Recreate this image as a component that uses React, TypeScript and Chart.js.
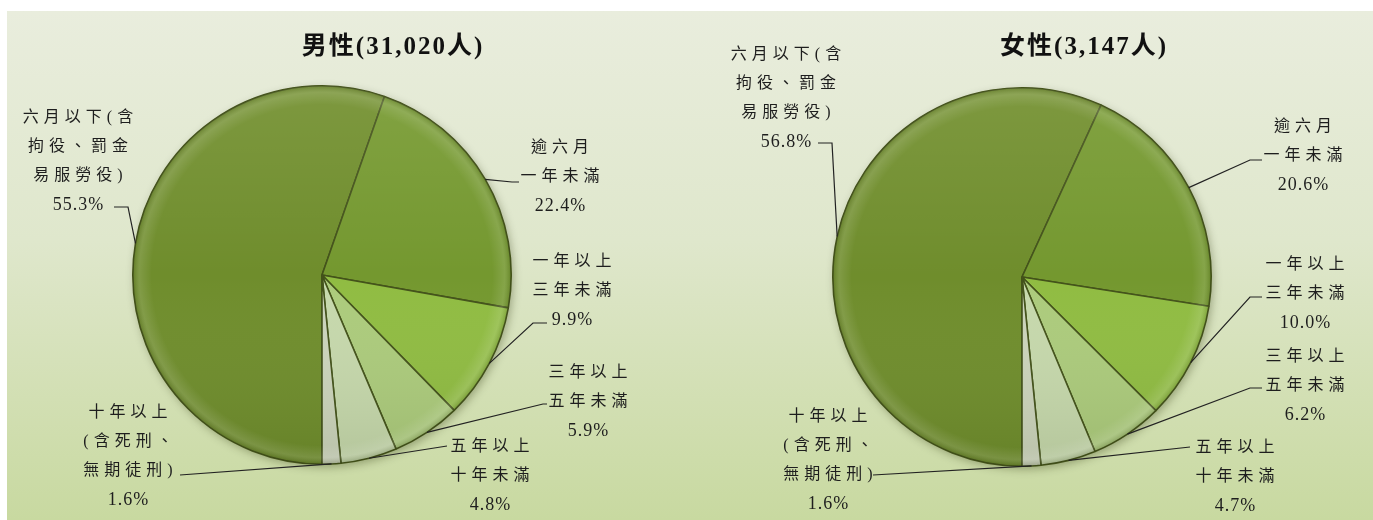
import React, { useEffect, useRef } from "react";
import { Chart, registerables } from "chart.js";

Chart.register(...registerables);

// ---------- data ----------
const categoryLines: string[][] = [
  ["六月以下(含", "拘役、罰金", "易服勞役)"],
  ["逾六月", "一年未滿"],
  ["一年以上", "三年未滿"],
  ["三年以上", "五年未滿"],
  ["五年以上", "十年未滿"],
  ["十年以上", "(含死刑、", "無期徒刑)"],
];
const maleValues: number[] = [55.3, 22.4, 9.9, 5.9, 4.8, 1.6];
const femaleValues: number[] = [56.8, 20.6, 10.0, 6.2, 4.7, 1.6];
const maleTitle = "男性(31,020人)";
const femaleTitle = "女性(3,147人)";

// ---------- styles / layout ----------
const sliceColors = ["#6f8d2c", "#74982f", "#90bc42", "#accb7c", "#c6d8ac", "#ccd4bc"];
const borderColor = "#43521a";

type LabelLayout = { dx: number; dy: number; leader: [number, number][] };

const maleLabelLayout: LabelLayout[] = [
  { dx: -244, dy: -157, leader: [[-194, -68], [-208, -68]] },
  { dx: 238, dy: -127, leader: [[190, -93], [197, -93]] },
  { dx: 250, dy: -13, leader: [[211, 48], [225, 48]] },
  { dx: 266, dy: 98, leader: [[221, 129], [225, 129]] },
  { dx: 168, dy: 172, leader: [[125, 171]] },
  { dx: -194, dy: 138, leader: [[-142, 200]] },
];
const femaleLabelLayout: LabelLayout[] = [
  { dx: -236, dy: -222, leader: [[-190, -134], [-204, -134]] },
  { dx: 281, dy: -150, leader: [[228, -117], [240, -117]] },
  { dx: 283, dy: -12, leader: [[228, 20], [240, 20]] },
  { dx: 283, dy: 80, leader: [[228, 111], [240, 111]] },
  { dx: 213, dy: 171, leader: [[168, 170]] },
  { dx: -194, dy: 140, leader: [[-149, 198]] },
];

const LINE_H = 29;
const CJK_FONT = '16px "Liberation Serif", "Noto Sans CJK TC", serif';
const NUM_FONT = '18px "Liberation Serif", "Noto Sans CJK TC", serif';
const TITLE_FONT = 'bold 25px "Liberation Serif", "Noto Sans CJK TC", serif';

function makePlugin(title: string, titleOffset: [number, number], layout: LabelLayout[]) {
  return {
    id: "pieDecor",
    beforeDatasetsDraw(chart: any) {
      const arc = chart.getDatasetMeta(0).data[0];
      if (!arc) return;
      const { x, y, outerRadius } = arc.getProps(["x", "y", "outerRadius"], true);
      const ctx = chart.ctx;
      ctx.save();
      ctx.shadowColor = "rgba(40,50,10,0.35)";
      ctx.shadowBlur = 8;
      ctx.shadowOffsetX = 2;
      ctx.shadowOffsetY = 3;
      ctx.beginPath();
      ctx.arc(x, y, outerRadius, 0, Math.PI * 2);
      ctx.fillStyle = "#6f8c2d";
      ctx.fill();
      ctx.restore();
    },
    afterDatasetsDraw(chart: any) {
      const arc = chart.getDatasetMeta(0).data[0];
      if (!arc) return;
      const { x, y, outerRadius } = arc.getProps(["x", "y", "outerRadius"], true);
      const ctx = chart.ctx;
      ctx.save();
      ctx.beginPath();
      ctx.arc(x, y, outerRadius, 0, Math.PI * 2);
      ctx.clip();
      const lg = ctx.createLinearGradient(0, y - outerRadius, 0, y + outerRadius);
      lg.addColorStop(0, "rgba(255,255,230,0.10)");
      lg.addColorStop(0.5, "rgba(255,255,255,0)");
      lg.addColorStop(1, "rgba(20,30,0,0.10)");
      ctx.fillStyle = lg;
      ctx.fillRect(x - outerRadius, y - outerRadius, outerRadius * 2, outerRadius * 2);
      const g = ctx.createRadialGradient(x, y, 0, x, y, outerRadius);
      g.addColorStop(0, "rgba(255,255,255,0)");
      g.addColorStop(0.9, "rgba(255,255,255,0)");
      g.addColorStop(0.965, "rgba(255,255,255,0.12)");
      g.addColorStop(1, "rgba(30,40,0,0.18)");
      ctx.fillStyle = g;
      ctx.fillRect(x - outerRadius, y - outerRadius, outerRadius * 2, outerRadius * 2);
      ctx.restore();
    },
    afterDraw(chart: any) {
      const meta = chart.getDatasetMeta(0);
      const ctx = chart.ctx;
      const values: number[] = chart.data.datasets[0].data;
      const first = meta.data[0];
      if (!first) return;
      const { x: cx, y: cy } = first.getProps(["x", "y"], true);
      ctx.save();
      // title
      ctx.fillStyle = "#111";
      ctx.font = TITLE_FONT;
      (ctx as any).letterSpacing = "2px";
      ctx.textAlign = "center";
      ctx.textBaseline = "middle";
      ctx.fillText(title, cx + titleOffset[0] + 1, cy + titleOffset[1]);
      // labels + leaders
      meta.data.forEach((el: any, i: number) => {
        const p = el.getProps(["x", "y", "startAngle", "endAngle", "outerRadius"], true);
        const mid = (p.startAngle + p.endAngle) / 2;
        const ax = p.x + Math.cos(mid) * p.outerRadius;
        const ay = p.y + Math.sin(mid) * p.outerRadius;
        const lay = layout[i];
        ctx.beginPath();
        ctx.moveTo(ax, ay);
        lay.leader.forEach(([lx, ly]) => ctx.lineTo(cx + lx, cy + ly));
        ctx.strokeStyle = "#222";
        ctx.lineWidth = 1.2;
        ctx.stroke();
        const lines = [...categoryLines[i], values[i].toFixed(1) + "%"];
        lines.forEach((t, k) => {
          const isNum = k === lines.length - 1;
          ctx.font = isNum ? NUM_FONT : CJK_FONT;
          const sp = isNum ? 1 : 5;
          (ctx as any).letterSpacing = sp + "px";
          ctx.fillStyle = "#1e1e1e";
          ctx.fillText(t, cx + lay.dx + sp / 2, cy + lay.dy + k * LINE_H);
        });
      });
      ctx.restore();
    },
  };
}

type PanelProps = {
  values: number[];
  title: string;
  titleOffset: [number, number];
  layout: LabelLayout[];
  left: number;
  width: number;
  padding: { left: number; top: number; right: number; bottom: number };
};

const PANEL_H = 509;

function PiePanel({ values, title, titleOffset, layout, left, width, padding }: PanelProps) {
  const ref = useRef<HTMLCanvasElement | null>(null);
  useEffect(() => {
    if (!ref.current) return;
    const chart = new Chart(ref.current, {
      type: "pie",
      data: {
        labels: categoryLines.map((l) => l.join("")),
        datasets: [
          {
            data: values,
            backgroundColor: sliceColors,
            borderColor: borderColor,
            borderWidth: 1.6,
          },
        ],
      },
      options: {
        responsive: false,
        animation: false,
        rotation: 180,
        layout: { padding },
        plugins: {
          legend: { display: false },
          tooltip: { enabled: false },
          title: { display: false },
        },
      },
      plugins: [makePlugin(title, titleOffset, layout)],
    } as any);
    return () => chart.destroy();
  }, []);
  return (
    <canvas
      ref={ref}
      width={width}
      height={PANEL_H}
      style={{ position: "absolute", left, top: 0, width, height: PANEL_H }}
    />
  );
}

export default function App() {
  return (
    <div
      style={{
        position: "fixed",
        left: 7,
        top: 11,
        width: 1366,
        height: PANEL_H,
        background: "linear-gradient(180deg, #e9eddd 0%, #dfe7cc 45%, #c8d9a0 100%)",
        overflow: "hidden",
      }}
    >
      <PiePanel
        values={maleValues}
        title={maleTitle}
        titleOffset={[70, -227]}
        layout={maleLabelLayout}
        left={0}
        width={690}
        padding={{ left: 125, top: 74, right: 185, bottom: 55 }}
      />
      <PiePanel
        values={femaleValues}
        title={femaleTitle}
        titleOffset={[61, -229]}
        layout={femaleLabelLayout}
        left={690}
        width={676}
        padding={{ left: 135, top: 76, right: 161, bottom: 53 }}
      />
    </div>
  );
}
